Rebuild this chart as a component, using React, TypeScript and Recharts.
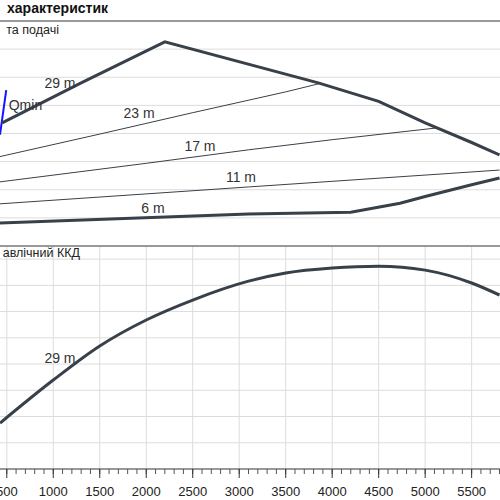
import { LineChart, Line, XAxis, YAxis, CartesianGrid, ReferenceLine, ReferenceDot } from "recharts";

// flow, m3/h
const flowTicks = [500, 1000, 1500, 2000, 2500, 3000, 3500, 4000, 4500, 5000, 5500];
const minorTicks = Array.from({ length: 54 }, (_, i) => 500 + i * 100);
const flowDomain = [427, 5805];

// head, m
const headTicks = [5, 10, 15, 20, 25, 30, 35];
const headMax = 40;
const envelopeTop = [
  { x: 450, y: 21.9 },
  { x: 1300, y: 29.0 },
  { x: 2200, y: 36.3 },
  { x: 3850, y: 29.0 },
  { x: 4500, y: 25.7 },
  { x: 5000, y: 21.9 },
  { x: 5500, y: 18.4 },
  { x: 5800, y: 16.2 },
];
const head23 = [
  { x: 427, y: 15.9 },
  { x: 1500, y: 19.9 },
  { x: 2500, y: 23.7 },
  { x: 3500, y: 27.4 },
  { x: 3870, y: 28.9 },
];
const head17 = [
  { x: 427, y: 11.4 },
  { x: 2000, y: 14.7 },
  { x: 3100, y: 17.1 },
  { x: 4000, y: 18.9 },
  { x: 5130, y: 21.0 },
];
const head11 = [
  { x: 427, y: 7.5 },
  { x: 3100, y: 10.5 },
  { x: 5800, y: 13.5 },
];
const head6 = [
  { x: 427, y: 4.1 },
  { x: 3100, y: 5.7 },
  { x: 4200, y: 6.0 },
  { x: 4730, y: 7.6 },
  { x: 5000, y: 8.8 },
  { x: 5500, y: 10.9 },
  { x: 5800, y: 12.1 },
];
const qmin = [
  { x: 427, y: 19.8 },
  { x: 494, y: 27.7 },
];
const headLabels = [
  { x: 1072, y: 29.0, text: "29 m" },
  { x: 701, y: 25.1, text: "Qmin" },
  { x: 1922, y: 23.6, text: "23 m" },
  { x: 2578, y: 17.8, text: "17 m" },
  { x: 3019, y: 12.2, text: "11 m" },
  { x: 2073, y: 6.8, text: "6 m" },
];

// hydraulic efficiency, %
const effTicks = [10, 20, 30, 40, 50, 60, 70, 80];
const effMax = 85;
const efficiency = [
  { x: 427, y: 17.5 },
  { x: 1000, y: 33.9 },
  { x: 1500, y: 46.9 },
  { x: 2000, y: 56.8 },
  { x: 2500, y: 64.4 },
  { x: 3100, y: 71.6 },
  { x: 3500, y: 74.7 },
  { x: 4000, y: 76.6 },
  { x: 4500, y: 77.3 },
  { x: 5000, y: 75.8 },
  { x: 5500, y: 70.9 },
  { x: 5800, y: 66.3 },
];
const effLabels = [{ x: 1072, y: 42.3, text: "29 m" }];

const LINE = "#38404a";
const GRID = "#dcdcdc";
const FONT = "'Liberation Sans', Arial, sans-serif";

const labelStyle = { fill: "#333", fontSize: 14, fontFamily: FONT };

// plot boxes of the two panels
const TOP_PANEL = { top: 21, height: 225 };
const BOTTOM_PANEL = { top: 6, height: 223 };

const rows = (values: number[], max: number, box: { top: number; height: number }) =>
  values.map((v) => box.top + box.height * (1 - v / max));

// minor ticks every 100, long tick + label every 500
function FlowTick(props: any) {
  const { x, y, payload } = props;
  const base = y - 5;
  if (payload.value % 500 !== 0) return <g />;
  return (
    <g>
      <line x1={x} x2={x} y1={base} y2={base + 9} stroke="#333" />
      <text x={x} y={base + 27} textAnchor="middle" fontSize={13} fontFamily={FONT} fill="#222">
        {payload.value}
      </text>
    </g>
  );
}

export default function App() {
  return (
    <div style={{ position: "absolute", left: 0, top: 0, width: 500, height: 500, background: "#fff", overflow: "hidden" }}>
      <div style={{ position: "absolute", left: 0, top: 0 }}>
        <LineChart width={500} height={246} margin={{ top: TOP_PANEL.top, right: 0, bottom: 0, left: 0 }}>
          <CartesianGrid
            stroke={GRID}
            verticalValues={flowTicks}
            horizontalPoints={rows(headTicks, headMax, TOP_PANEL)}
          />
          <XAxis
            type="number"
            dataKey="x"
            domain={flowDomain}
            ticks={flowTicks}
            interval={0}
            allowDataOverflow
            height={0}
            axisLine={false}
            tickLine={false}
            tick={false}
          />
          <YAxis type="number" domain={[0, headMax]} allowDataOverflow width={0} axisLine={false} tickLine={false} tick={false} />
          <ReferenceLine y={headMax} stroke="#777" strokeWidth={1.5} />
          <Line data={head23} dataKey="y" stroke={LINE} strokeWidth={1} dot={false} isAnimationActive={false} />
          <Line data={head17} dataKey="y" stroke={LINE} strokeWidth={1} dot={false} isAnimationActive={false} />
          <Line data={head11} dataKey="y" stroke={LINE} strokeWidth={1} dot={false} isAnimationActive={false} />
          <Line data={head6} dataKey="y" stroke={LINE} strokeWidth={3} dot={false} isAnimationActive={false} />
          <Line data={qmin} dataKey="y" stroke="#1414ff" strokeWidth={2} dot={false} isAnimationActive={false} />
          {headLabels.map((l) => (
            <ReferenceDot
              key={l.text}
              x={l.x}
              y={l.y}
              r={0}
              stroke="none"
              fill="none"
              label={{ value: l.text, position: "center", ...labelStyle }}
            />
          ))}
          <Line data={envelopeTop} dataKey="y" stroke={LINE} strokeWidth={3} dot={false} isAnimationActive={false} />
        </LineChart>
      </div>

      <div style={{ position: "absolute", left: 0, top: 240 }}>
        <LineChart width={500} height={260} margin={{ top: BOTTOM_PANEL.top, right: 0, bottom: 0, left: 0 }}>
          <CartesianGrid
            stroke={GRID}
            verticalValues={flowTicks}
            horizontalPoints={rows(effTicks, effMax, BOTTOM_PANEL)}
          />
          <XAxis
            type="number"
            dataKey="x"
            domain={flowDomain}
            ticks={minorTicks}
            interval={0}
            allowDataOverflow
            height={31}
            axisLine={{ stroke: "#333" }}
            tickLine={{ stroke: "#555" }}
            tickSize={5}
            tickMargin={0}
            tick={FlowTick}
          />
          <YAxis type="number" domain={[0, effMax]} allowDataOverflow width={0} axisLine={false} tickLine={false} tick={false} />
          <ReferenceLine y={effMax} stroke="#777" strokeWidth={1.5} />
          <Line data={efficiency} dataKey="y" type="monotone" stroke={LINE} strokeWidth={3} dot={false} isAnimationActive={false} />
          {effLabels.map((l) => (
            <ReferenceDot
              key={l.text}
              x={l.x}
              y={l.y}
              r={0}
              stroke="none"
              fill="none"
              label={{ value: l.text, position: "center", ...labelStyle }}
            />
          ))}
        </LineChart>
      </div>

      <svg width={500} height={500} style={{ position: "absolute", left: 0, top: 0, pointerEvents: "none" }}>
        <text x={108} y={13} textAnchor="end" fontFamily={FONT} fontWeight="bold" fontSize={14} fill="#111">
          характеристик
        </text>
        <text x={59} y={34} textAnchor="end" fontFamily={FONT} fontSize={12.5} fill="#222">
          та подачі
        </text>
        <text x={80} y={257} textAnchor="end" fontFamily={FONT} fontSize={12.5} fill="#222">
          авлічний ККД
        </text>
      </svg>
    </div>
  );
}
